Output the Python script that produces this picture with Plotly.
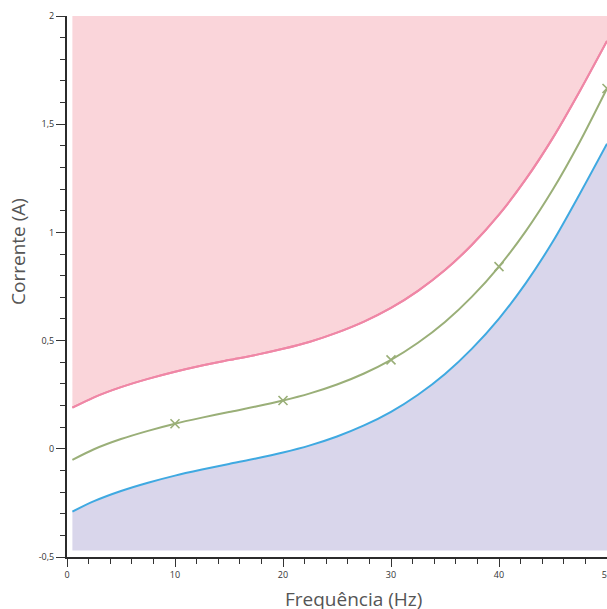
import plotly.graph_objects as go

# Frequency (Hz)
freq = [0.5, 2.5, 5, 7.5, 10, 12.5, 15, 17.5, 20, 22.5, 25, 27.5, 30,
        32.5, 35, 37.5, 40, 42.5, 45, 47.5, 50]
# Fitted current (A) - middle curve
current_fit = [-0.051, -0.002, 0.045, 0.083, 0.116, 0.144, 0.17, 0.195, 0.223,
               0.256, 0.297, 0.348, 0.411, 0.49, 0.586, 0.703, 0.842, 1.007,
               1.199, 1.42, 1.665]
# Upper limit
current_upper = [0.19, 0.238, 0.285, 0.323, 0.356, 0.385, 0.41, 0.434, 0.462,
                 0.495, 0.537, 0.588, 0.651, 0.73, 0.826, 0.943, 1.082, 1.247,
                 1.438, 1.655, 1.885]
# Lower limit
current_lower = [-0.29, -0.242, -0.195, -0.157, -0.124, -0.096, -0.07, -0.045,
                 -0.017, 0.016, 0.057, 0.108, 0.171, 0.25, 0.346, 0.463, 0.602,
                 0.767, 0.959, 1.18, 1.41]
# Measured points
meas_freq = [10, 20, 30, 40, 50]
meas_current = [0.116, 0.223, 0.411, 0.842, 1.665]

fill_top = 2.0
fill_bottom = -0.47

x_tickvals = [0, 10, 20, 30, 40, 50]
x_ticktext = ["0", "10", "20", "30", "40", "50"]
y_tickvals = [-0.5, 0, 0.5, 1, 1.5, 2]
y_ticktext = ["-0,5", "0", "0,5", "1", "1,5", "2"]

x_title = "Frequência (Hz)"
y_title = "Corrente (A)"

PINK_LINE = "#EF87A6"
PINK_FILL = "#FAD5DA"
BLUE_LINE = "#3FA9E1"
BLUE_FILL = "#D9D6EB"
GREEN = "#9AAF78"

fig = go.Figure()
# lower filled region
fig.add_trace(go.Scatter(x=freq, y=[fill_bottom] * len(freq), mode="lines",
                         line=dict(width=0, color=BLUE_FILL), hoverinfo="skip",
                         showlegend=False))
fig.add_trace(go.Scatter(x=freq, y=current_lower, mode="lines", fill="tonexty",
                         fillcolor=BLUE_FILL, line=dict(color=BLUE_LINE, width=2, shape="spline", smoothing=0.8),
                         showlegend=False))
# upper filled region
fig.add_trace(go.Scatter(x=freq, y=current_upper, mode="lines",
                         line=dict(color=PINK_LINE, width=2, shape="spline", smoothing=0.8),
                         showlegend=False))
fig.add_trace(go.Scatter(x=freq, y=[fill_top] * len(freq), mode="lines", fill="tonexty",
                         fillcolor=PINK_FILL, line=dict(width=0, color=PINK_FILL),
                         hoverinfo="skip", showlegend=False))
fig.add_trace(go.Scatter(x=freq, y=current_upper, mode="lines",
                         line=dict(color=PINK_LINE, width=2, shape="spline", smoothing=0.8),
                         showlegend=False))
# fit line
fig.add_trace(go.Scatter(x=freq, y=current_fit, mode="lines",
                         line=dict(color=GREEN, width=2, shape="spline", smoothing=0.8),
                         showlegend=False))
fig.add_trace(go.Scatter(x=meas_freq, y=meas_current, mode="markers",
                         marker=dict(symbol="x-thin", size=9, line=dict(color=GREEN, width=1.6)),
                         showlegend=False))

axis_common = dict(
    showgrid=False, zeroline=False, showline=True, linecolor="#2b2b2b", linewidth=2,
    ticks="outside", tickcolor="#333", tickwidth=1, automargin=False,
    ticklabeloverflow="allow",
    tickfont=dict(family="Open Sans", size=9, color="#333"),
)

fig.update_layout(
    width=607, height=609,
    margin=dict(l=67, r=0, t=16, b=52, pad=0),
    paper_bgcolor="white", plot_bgcolor="white",
    font=dict(family="Open Sans"),
    xaxis=dict(range=[0, 50], tickvals=x_tickvals, ticktext=x_ticktext, ticklen=8,
               minor=dict(dtick=2, ticklen=5, ticks="outside", tickcolor="#333"),
               **axis_common),
    yaxis=dict(range=[-0.5, 2], tickvals=y_tickvals, ticktext=y_ticktext, ticklen=9,
               minor=dict(dtick=0.1, ticklen=5, ticks="outside", tickcolor="#333"),
               **axis_common),
    annotations=[
        dict(text=x_title, xref="paper", yref="paper", x=0.53, y=-0.078,
             xanchor="center", yanchor="middle", showarrow=False,
             font=dict(family="Open Sans", size=19, color="#555")),
        dict(text=y_title, xref="paper", yref="paper", x=-0.0907, y=0.564,
             xanchor="center", yanchor="middle", textangle=-90, showarrow=False,
             font=dict(family="Open Sans", size=19, color="#555")),
    ],
)

# remove default page margin / scrollbars so the figure sits at the window origin
post = "document.body.style.margin='0';document.body.style.overflow='hidden';"
fig.write_html("out.html", post_script=post, config={"displayModeBar": False})
